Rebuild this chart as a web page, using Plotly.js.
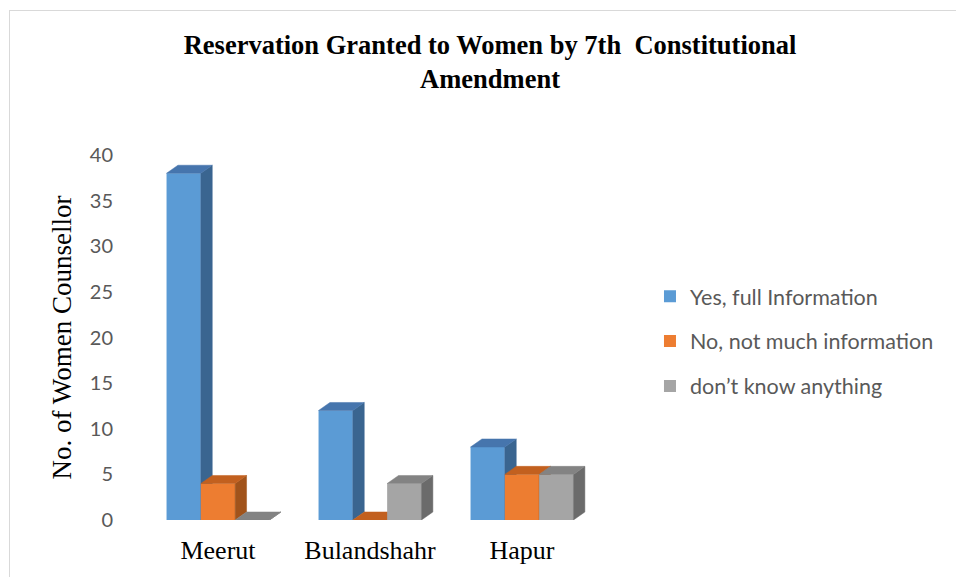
<!DOCTYPE html>
<html><head><meta charset="utf-8">
<script src="https://cdn.plot.ly/plotly-3.0.1.min.js"></script>
<style>
body{margin:0;background:#fff}
#wrap{position:relative;width:956px;height:577px}
#chart{width:956px;height:577px}
#frame{position:absolute;left:9px;top:10px;right:0;bottom:0;border-top:1px solid #d9d9d9;border-left:1px solid #d9d9d9;pointer-events:none}
</style>
</head><body>
<div id="wrap"><div id="chart"></div><div id="frame"></div></div>
<script>
// ---- data ----
const districts = ['Meerut', 'Bulandshahr', 'Hapur'];
const seriesNames = ['Yes, full Information', 'No, not much information', 'don\u2019t know anything'];
const yesFull = [38, 12, 8];
const notMuch = [4, 0, 5];
const dontKnow = [0, 4, 5];
const yTickVals = [0, 5, 10, 15, 20, 25, 30, 35, 40];

// ---- style ----
const frontColors = ['#5B9BD5', '#ED7D31', '#A5A5A5'];
const topColors = ['#4675AD', '#C2601F', '#838383'];
const sideColors = ['#3A6590', '#A1531B', '#6B6B6B'];
const W = 0.2257;   // bar width (axis units)
const DX = 0.075;   // depth shift x (axis units)
const DY = 0.88;    // depth shift y (axis units)

const allSeries = [yesFull, notMuch, dontKnow];
const pos = districts.map((d, i) => i);
const axisIds = ['x', 'x2', 'x3'];

function facePolys(vals, k, kind) {
  const xs = [], ys = [];
  vals.forEach((v, i) => {
    const xl = pos[i] + (k - 1.5) * W, xr = xl + W;
    const pts = kind === 'side'
      ? [[xr, 0], [xr + DX, DY], [xr + DX, v + DY], [xr, v]]
      : [[xl, v], [xl + DX, v + DY], [xr + DX, v + DY], [xr, v]];
    pts.forEach(p => { xs.push(p[0]); ys.push(p[1]); });
    xs.push(pts[0][0]); ys.push(pts[0][1]);
    xs.push(null); ys.push(null);
  });
  return { xs, ys };
}

const traces = [];
allSeries.forEach((vals, k) => {
  traces.push({
    type: 'bar', x: pos, y: vals, name: seriesNames[k],
    xaxis: axisIds[k], yaxis: 'y',
    width: W, offset: (k - 1.5) * W,
    marker: { color: frontColors[k], line: { width: 0 } },
    legendgroup: 'g' + k, hoverinfo: 'name+y'
  });
  ['side', 'top'].forEach(kind => {
    const f = facePolys(vals, k, kind);
    traces.push({
      type: 'scatter', mode: 'lines', x: f.xs, y: f.ys,
      xaxis: axisIds[k], yaxis: 'y',
      fill: 'toself',
      fillcolor: kind === 'side' ? sideColors[k] : topColors[k],
      line: { width: 0.5, color: kind === 'side' ? sideColors[k] : topColors[k] },
      showlegend: false, hoverinfo: 'skip', legendgroup: 'g' + k
    });
  });
});

const hiddenX = {
  range: [-0.5, 2.5], overlaying: 'x', visible: false, fixedrange: true
};

const layout = {
  width: 956, height: 577,
  margin: { l: 142, r: 358, t: 155, b: 57 },
  paper_bgcolor: '#ffffff', plot_bgcolor: '#ffffff',
  showlegend: true,
  barmode: 'overlay',
  title: {
    text: '<b>Reservation Granted to Women by 7th\u00a0 Constitutional<br>Amendment</b>',
    font: { family: 'Liberation Serif, Times New Roman, serif', size: 26.5, color: '#000000' },
    x: 0.5126, xref: 'container', xanchor: 'center',
    y: 1 - 54 / 577, yref: 'container', yanchor: 'middle'
  },
  xaxis: {
    range: [-0.5, 2.5], tickvals: pos, ticktext: districts,
    showgrid: false, zeroline: false, showline: false, ticks: '',
    tickfont: { family: 'Liberation Serif, Times New Roman, serif', size: 26, color: '#000000' },
    ticklabelstandoff: 12, fixedrange: true
  },
  xaxis2: hiddenX,
  xaxis3: Object.assign({}, hiddenX),
  yaxis: {
    range: [0, 40], tickvals: yTickVals,
    showgrid: false, zeroline: false, showline: false, ticks: '',
    tickfont: { family: 'Lato, Open Sans, sans-serif', size: 20, color: '#595959' },
    ticklabelstandoff: 28, fixedrange: true,
    title: {
      text: 'No. of Women Counsellor',
      font: { family: 'Liberation Serif, Times New Roman, serif', size: 27, color: '#000000' },
      standoff: 10
    }
  },
  legend: {
    x: 1.114, xanchor: 'left', y: 0.49, yanchor: 'middle',
    font: { family: 'Lato, Open Sans, sans-serif', size: 21.5, color: '#595959' },
    traceorder: 'grouped', tracegroupgap: 14,
    bgcolor: 'rgba(0,0,0,0)'
  }
};

Plotly.newPlot('chart', traces, layout, { displayModeBar: false, staticPlot: true });
</script>
</body></html>
